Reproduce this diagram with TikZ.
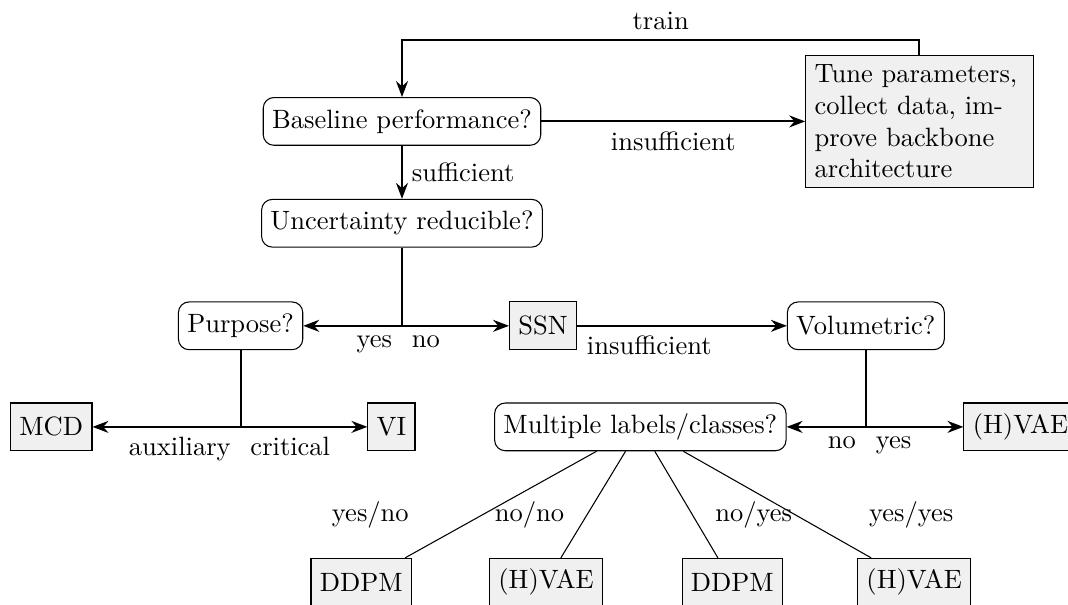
\documentclass[tikz,border=0pt]{standalone}
\usetikzlibrary{arrows,arrows.meta}
\definecolor{boxfill}{RGB}{240,240,240}

\begin{document}
\begin{tikzpicture}[
	decision/.style={draw, rounded corners, minimum height=18pt},
	result/.style={draw, fill=boxfill, minimum height=18pt},
	arr/.style={thick, -{Stealth[length=6pt]}},
	stem/.style={thick}]

	\useasboundingbox (0,0) rectangle (14.16,-8.01);

	% Stufe 1
	\node[decision] (Base) at (5.33,-1.61) {Baseline performance?};
	\node[result, text width=2.78cm, align=left] (Tune) at (12.19,-1.61) {Tune parameters,\\collect data, im-\\prove backbone\\architecture};

	\draw[arr] (Base) -- node[below] {insufficient} (Tune);
	\draw[arr] (Tune.north) -- ++(0,0.2) -| node[pos=0.25, above] {train} (Base.north);

	% Stufe 2
	\node[decision] (Unc) at (5.33,-2.96) {Uncertainty reducible?};

	\draw[arr] (Base) -- node[right] {sufficient} (Unc);

	% Stufe 3
	\node[decision] (Purp) at (3.19,-4.32) {Purpose?};
	\node[result] (SSN) at (7.20,-4.32) {SSN};
	\node[decision] (Vol) at (11.48,-4.32) {Volumetric?};

	\coordinate (J1) at (Unc |- Purp);
	\draw[stem] (Unc) -- (J1) node[below left] {yes} node[below right] {no};
	\draw[arr] (J1) -- (Purp);
	\draw[arr] (J1) -- (SSN);
	\draw[arr] (SSN) -- node[below right, pos=0] {insufficient} (Vol);

	% Stufe 4
	\node[result] (MCD) at (0.68,-5.66) {MCD};
	\node[result] (VI) at (5.19,-5.66) {VI};
	\node[decision] (Mult) at (8.49,-5.66) {Multiple labels/classes?};
	\node[result] (HVAE) at (13.53,-5.66) {(H)VAE};

	\coordinate (J2) at (Purp |- MCD);
	\draw[stem] (Purp) -- (J2) node[below left] {auxiliary} node[below right] {critical};
	\draw[arr] (J2) -- (MCD);
	\draw[arr] (J2) -- (VI);

	\coordinate (J3) at (Vol |- Mult);
	\draw[stem] (Vol) -- (J3) node[below left] {no} node[below right] {yes};
	\draw[arr] (J3) -- (Mult);
	\draw[arr] (J3) -- (HVAE);

	% Stufe 5
	\node[result] (DDPM1) at (4.79,-7.72) {DDPM};
	\node[result] (HVAE1) at (7.24,-7.72) {(H)VAE};
	\node[result] (DDPM2) at (9.71,-7.72) {DDPM};
	\node[result] (HVAE2) at (12.12,-7.72) {(H)VAE};

	\draw (Mult) -- node[pos=0.6, left=24pt] {yes/no} (DDPM1);
	\draw (Mult) -- node[pos=0.6, left=5pt] {no/no} (HVAE1);
	\draw (Mult) -- node[pos=0.6, right=5pt] {no/yes} (DDPM2);
	\draw (Mult) -- node[pos=0.6, right=24pt] {yes/yes} (HVAE2);
\end{tikzpicture}
\end{document}
